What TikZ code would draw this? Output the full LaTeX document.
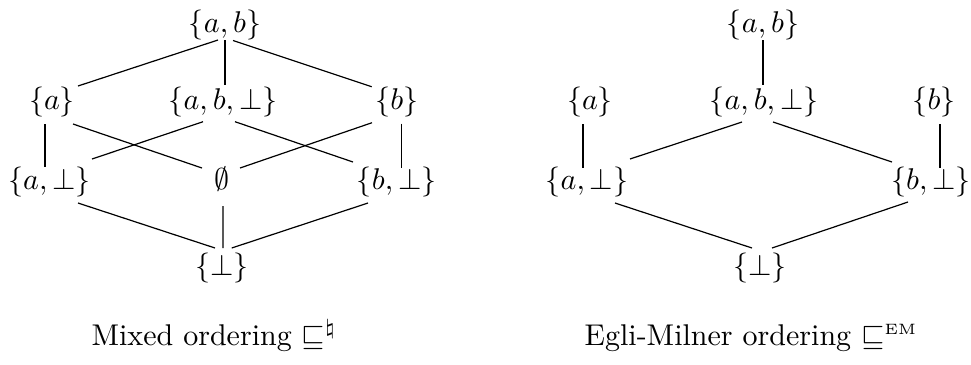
\documentclass[tikz,border=0pt]{standalone}
\usepackage{amsmath,amssymb}
\usetikzlibrary{calc}
\begin{document}
\begin{tikzpicture}[x=0.3333pt,y=-0.3333pt,
  elem/.style={inner sep=0pt,text height=7.5pt,text depth=2.5pt},
  edge/.style={line width=0.4pt},
  caption/.style={inner sep=0pt}]
\useasboundingbox (0,0) rectangle (971,364);
% left: mixed ordering
\node[elem] (Lab)  at (225,24.5) {$\{a,b\}$};
\node[elem] (La)   at (52,101.5) {$\{a\}$};
\node[elem] (Labb) at (223,101.7) {$\{a,b,\bot\}$};
\node[elem] (Lb)   at (396.7,101.7) {$\{b\}$};
\node[elem] (Lap)  at (49.5,182) {$\{a,\bot\}$};
\node[elem] (Le)   at (222,182) {$\emptyset$};
\node[elem] (Lbp)  at (396.7,182) {$\{b,\bot\}$};
\node[elem] (Lbot) at (221.7,267.5) {$\{\bot\}$};
\draw[edge] ($(Lab)+(-7,15.5)$) -- ($(La)+(26,-15.5)$);
\draw[edge] ($(Lab)+(0,15.5)$) -- ($(Labb)+(2,-16.5)$);
\draw[edge] ($(Lab)+(8,16)$) -- ($(Lb)+(-25,-15)$);
\draw[edge] ($(La)+(-7,22.5)$) -- ($(Lap)+(-4.5,-15)$);
\draw[edge] ($(La)+(21,22.5)$) -- ($(Le)+(-20,-14)$);
\draw[edge] ($(Labb)+(-20,20)$) -- ($(Lap)+(42.5,-23)$);
\draw[edge] ($(Labb)+(12,20)$) -- ($(Lbp)+(-43.7,-20)$);
\draw[edge] ($(Lb)+(-24.7,21)$) -- ($(Le)+(18,-14)$);
\draw[edge] ($(Lb)+(5,22)$) -- ($(Lbp)+(5,-14)$);
\draw[edge] ($(Lap)+(28.5,21)$) -- ($(Lbot)+(-6.7,-19.5)$);
\draw[edge] ($(Le)+(1,24)$) -- ($(Lbot)+(1.3,-19.5)$);
\draw[edge] ($(Lbp)+(-28.7,21)$) -- ($(Lbot)+(10,-19.5)$);
% right: Egli-Milner ordering
\node[elem] (Rab)  at (763,25) {$\{a,b\}$};
\node[elem] (Ra)   at (590,102) {$\{a\}$};
\node[elem] (Rabb) at (764,102) {$\{a,b,\bot\}$};
\node[elem] (Rb)   at (934,102) {$\{b\}$};
\node[elem] (Rap)  at (587,182) {$\{a,\bot\}$};
\node[elem] (Rbp)  at (931,182) {$\{b,\bot\}$};
\node[elem] (Rbot) at (760,268) {$\{\bot\}$};
\draw[edge] ($(Rab)+(0,15)$) -- ($(Rabb)+(-1,-17)$);
\draw[edge] ($(Ra)+(-7,22)$) -- ($(Rap)+(-4,-14)$);
\draw[edge] ($(Rabb)+(-22,20)$) -- ($(Rap)+(43,-23)$);
\draw[edge] ($(Rabb)+(9,20)$) -- ($(Rbp)+(-39,-20)$);
\draw[edge] ($(Rb)+(6,22)$) -- ($(Rbp)+(9,-14)$);
\draw[edge] ($(Rap)+(28,21)$) -- ($(Rbot)+(-8,-20)$);
\draw[edge] ($(Rbp)+(-23,20)$) -- ($(Rbot)+(12,-20)$);
% captions
\node[caption,anchor=base west] (capL) at (91,345) {Mixed ordering $\sqsubseteq^{\natural}$};
\node[caption,anchor=base east] (capR) at (918,345) {Egli-Milner ordering $\sqsubseteq^{\scriptscriptstyle\mathrm{EM}}$};
\end{tikzpicture}
\end{document}
